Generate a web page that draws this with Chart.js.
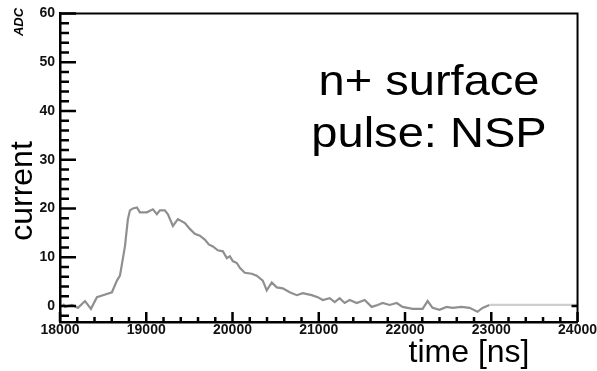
<!DOCTYPE html>
<html>
<head>
<meta charset="UTF-8">
<title>NSP pulse</title>
<script src="https://cdn.jsdelivr.net/npm/chart.js"></script>
<style>
  html, body { margin: 0; padding: 0; background: #fff; }
  #wrap { width: 597px; height: 371px; }
</style>
</head>
<body>
<div id="wrap"><canvas id="pulse"></canvas></div>
<script>
// time [ns] and current [ADC]
const times = [18035, 18058, 18139, 18208, 18290, 18359, 18428, 18498, 18602, 18660,
  18695, 18753, 18787, 18811, 18845, 18892, 18926, 19007, 19077, 19123,
  19158, 19216, 19251, 19309, 19367, 19448, 19505, 19563, 19621, 19679,
  19725, 19772, 19830, 19888, 19934, 19969, 20003, 20050, 20085, 20142,
  20223, 20281, 20351, 20397, 20455, 20513, 20582, 20663, 20745, 20814,
  20918, 20988, 21046, 21127, 21185, 21242, 21300, 21358, 21440, 21532,
  21613, 21683, 21741, 21821, 21903, 21972, 22088, 22204, 22262, 22319,
  22400, 22481, 22551, 22655, 22748, 22840, 22898, 22979, 24000];
const current = [0.4, -0.2, 0.2, -0.4, 1.0, -0.6, 1.8, 2.2, 2.8, 5.2,
  6.2, 12.2, 17.8, 19.6, 20.0, 20.2, 19.2, 19.2, 19.8, 18.8,
  19.6, 19.6, 18.8, 16.4, 17.8, 17.0, 15.8, 14.8, 14.4, 13.6,
  12.6, 12.2, 11.4, 11.2, 9.8, 10.2, 9.2, 8.8, 7.8, 6.8,
  6.6, 6.2, 5.2, 3.2, 4.8, 3.8, 3.6, 2.8, 2.2, 2.6,
  2.2, 1.8, 1.2, 1.6, 0.8, 1.6, 0.6, 1.2, 0.6, 1.2,
  -0.2, 0.2, 0.6, 0.2, 0.6, -0.2, -0.6, -0.6, 1.0, -0.4,
  -0.8, -0.2, -0.4, -0.2, -0.4, -1.2, -0.4, 0.2, 0.2];

const xTickLabels = [18000, 19000, 20000, 21000, 22000, 23000, 24000];
const yTickLabels = [0, 10, 20, 30, 40, 50, 60];
const xMinorStep = 200;
const yMinorStep = 2;
const lastSample = 22979;   // after this the trace is a flat fill

const xTicks = [];
for (let v = xTickLabels[0]; v <= xTickLabels[xTickLabels.length - 1]; v += xMinorStep) xTicks.push(v);
const yTicks = [];
for (let v = -2; v <= yTickLabels[yTickLabels.length - 1]; v += yMinorStep) yTicks.push(v);

const points = times.map((t, i) => ({ x: t, y: current[i] }));

const frame = {
  id: 'frame',
  afterDraw(chart) {
    const c = chart.ctx, a = chart.chartArea;
    const xs = chart.scales.x, ys = chart.scales.y;
    c.save();
    c.strokeStyle = '#000';
    c.lineWidth = 2;
    c.beginPath();
    c.moveTo(a.left, a.top); c.lineTo(a.right, a.top);
    c.lineTo(a.right, a.bottom);
    c.stroke();

    c.lineWidth = 2.5;
    c.beginPath();
    xTicks.forEach(v => {
      const px = xs.getPixelForValue(v);
      const len = xTickLabels.includes(v) ? 10 : 5;
      c.moveTo(px, a.bottom); c.lineTo(px, a.bottom - len);
    });
    yTicks.forEach(v => {
      const py = ys.getPixelForValue(v);
      const len = yTickLabels.includes(v) ? 16 : 9;
      c.moveTo(a.left, py); c.lineTo(a.left + len, py);
    });
    const p0 = ys.getPixelForValue(0);
    c.moveTo(a.right, p0); c.lineTo(a.right - 6, p0);
    c.stroke();

    c.fillStyle = '#000';
    c.font = '32px "Liberation Sans", Arial, sans-serif';
    c.textAlign = 'center';
    c.textBaseline = 'alphabetic';
    c.fillText('time [ns]', 469, 362);

    c.save();
    c.translate(32, 191);
    c.rotate(-Math.PI / 2);
    c.fillText('current', 0, 0);
    c.restore();

    c.save();
    c.translate(23, 22);
    c.rotate(-Math.PI / 2);
    c.font = 'bold italic 13px "Liberation Sans", Arial, sans-serif';
    c.fillText('ADC', 0, 0);
    c.restore();

    c.save();
    c.translate(429, 0);
    c.scale(1.12, 1);
    c.font = '42px "Liberation Sans", Arial, sans-serif';
    c.fillText('n+ surface', 0, 95);
    c.fillText('pulse: NSP', 0, 147);
    c.restore();
    c.restore();
  }
};

new Chart(document.getElementById('pulse'), {
  type: 'line',
  data: {
    datasets: [{
      data: points,
      borderColor: '#8f8f8f',
      borderWidth: 2.2,
      pointRadius: 0,
      tension: 0,
      segment: {
        borderColor: ctx => ctx.p0.parsed.x >= lastSample ? '#cfcfcf' : undefined
      }
    }]
  },
  options: {
    responsive: true,
    maintainAspectRatio: false,
    animation: false,
    layout: { padding: { top: 7, right: 19, left: 0, bottom: 0 } },
    plugins: { legend: { display: false }, tooltip: { enabled: false } },
    scales: {
      x: {
        type: 'linear',
        min: 18000,
        max: 24000,
        afterBuildTicks: s => { s.ticks = xTicks.map(v => ({ value: v })); },
        afterFit: s => { s.height = 49; },
        grid: { display: false, drawTicks: false },
        border: { display: true, color: '#000', width: 2.5 },
        ticks: {
          autoSkip: false,
          maxRotation: 0,
          padding: 0,
          color: '#111',
          font: { family: '"Liberation Sans", Arial, sans-serif', size: 14, weight: 'bold' },
          callback: v => xTickLabels.includes(v) ? String(v) : ''
        }
      },
      y: {
        min: -3.3,
        max: 60,
        afterBuildTicks: s => { s.ticks = yTicks.map(v => ({ value: v })); },
        afterFit: s => { s.width = 60; },
        grid: { display: false, drawTicks: false },
        border: { display: true, color: '#000', width: 2.5 },
        ticks: {
          autoSkip: false,
          padding: 5,
          color: '#111',
          font: { family: '"Liberation Sans", Arial, sans-serif', size: 14, weight: 'bold' },
          callback: v => yTickLabels.includes(v) ? String(v) : ''
        }
      }
    }
  },
  plugins: [frame]
});
</script>
</body>
</html>
